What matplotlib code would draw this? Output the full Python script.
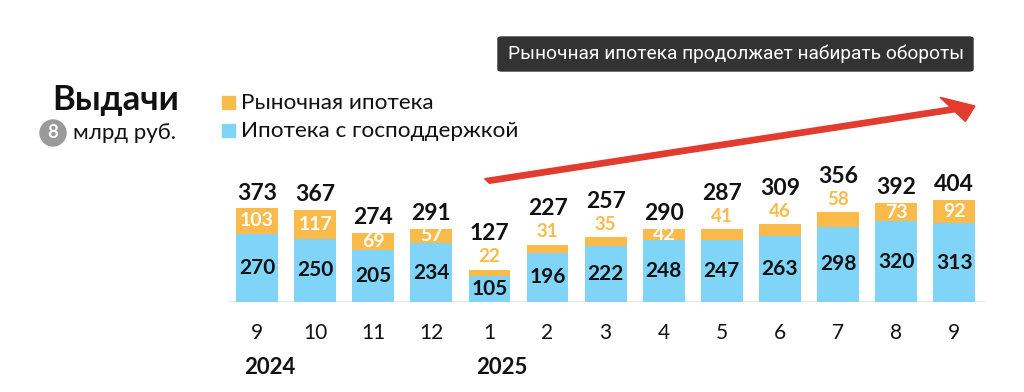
import matplotlib.pyplot as plt
from matplotlib.patches import FancyBboxPatch, Ellipse, FancyArrow

months = ["9", "10", "11", "12", "1", "2", "3", "4", "5", "6", "7", "8", "9"]
years = {0: "2024", 4: "2025"}
state_support = [270, 250, 205, 234, 105, 196, 222, 248, 247, 263, 298, 320, 313]
market = [103, 117, 69, 57, 22, 31, 35, 42, 41, 46, 58, 73, 92]
totals = [373, 367, 274, 291, 127, 227, 257, 290, 287, 309, 356, 392, 404]
# months where the market value is printed above the bar, not inside it
market_above = [4, 5, 6, 8, 9, 10]

BLUE = "#7fd4f8"
ORANGE = "#fbbb4a"
DARK = "#111111"
W, H = 1024, 392
PX = 0.252  # pixels per unit


def fx(px):
    return px / W


def fy(py):
    return 1 - py / H


def main():
    plt.rcParams['font.family'] = ['Lato', 'DejaVu Sans']
    fig = plt.figure(figsize=(W / 100, H / 100), dpi=100)
    fig.patch.set_facecolor("white")

    # axes: x 228..985 px, baseline at y=302 px
    top_px = 100
    ax = fig.add_axes([fx(228), fy(302), fx(985 - 228), (302 - top_px) / H])
    ax.set_xlim(-0.5, 12.53)
    ax.set_ylim(0, (302 - top_px) / PX)
    ax.axis("off")

    x = list(range(len(months)))
    ax.bar(x, state_support, width=0.72, color=BLUE, zorder=2)
    ax.bar(x, market, width=0.72, bottom=state_support, color=ORANGE, zorder=2)
    ax.axhline(0, color="#e4e4e4", lw=2, zorder=1)

    for i in x:
        s, m, t = state_support[i], market[i], totals[i]
        top = s + m
        ax.text(i, s / 2, str(s), ha="center", va="center", fontsize=15,
                fontweight="bold", color=DARK, zorder=3)
        if i in market_above:
            ax.text(i, top + 13 / PX, str(m), ha="center", va="center",
                    fontsize=13.5, fontweight="bold", color=ORANGE, zorder=3)
            ax.text(i, top + 36 / PX, str(t), ha="center", va="center",
                    fontsize=16.5, fontweight="bold", color=DARK, zorder=3)
        else:
            ax.text(i, s + m / 2, str(m), ha="center", va="center", fontsize=14,
                    fontweight="bold", color="white", zorder=3)
            ax.text(i, top + 15 / PX, str(t), ha="center", va="center",
                    fontsize=16.5, fontweight="bold", color=DARK, zorder=3)

    # month and year labels
    for i in x:
        fig.text(fx(257 + 58.1 * i), fy(333), months[i], ha="center", va="center",
                 fontsize=15, color=DARK)
    for i, yr in years.items():
        fig.text(fx(257 + 58.1 * i - 13), fy(368), yr, ha="left", va="center",
                 fontsize=16, fontweight="bold", color=DARK)

    # title block
    fig.text(fx(179), fy(100), "Выдачи", ha="right", va="center", fontsize=25,
             fontweight="bold", color=DARK)
    fig.patches.append(Ellipse((fx(53), fy(133)), 26 / W, 26 / H,
                               transform=fig.transFigure, color="#9a9a9a", figure=fig))
    fig.text(fx(53), fy(133), "8", ha="center", va="center", fontsize=13.5,
             fontweight="bold", color="white")
    fig.text(fx(73), fy(133), "млрд руб.", ha="left", va="center", fontsize=16,
             color=DARK)

    # legend
    for py, col, lab in [(103, ORANGE, "Рыночная ипотека"),
                         (131, BLUE, "Ипотека с господдержкой")]:
        fig.patches.append(plt.Rectangle((fx(222), fy(py + 6)), 13 / W, 13 / H,
                                         transform=fig.transFigure, color=col,
                                         figure=fig))
        fig.text(fx(241), fy(py), lab, ha="left", va="center", fontsize=16.2,
                 color=DARK)

    # dark note box
    box = FancyBboxPatch((fx(498), fy(71)), (973 - 498) / W, 34 / H,
                         boxstyle="round,pad=0,rounding_size=0.004",
                         transform=fig.transFigure, color="#333333", figure=fig)
    fig.patches.append(box)
    fig.text(fx(736), fy(54), "Рыночная ипотека продолжает набирать обороты",
             ha="center", va="center", fontsize=13.8, color="white",
             family=["Roboto", "DejaVu Sans"])

    # red trend arrow (pixel coords)
    x0, y0, x1, y1 = 487, 181, 975, 106
    arrow = FancyArrow(fx(x0), fy(y0), fx(x1) - fx(x0), fy(y1) - fy(y0),
                       width=5 / H, head_width=26 / H, head_length=24 / W,
                       length_includes_head=True, transform=fig.transFigure,
                       color="#e23b2f", figure=fig)
    fig.patches.append(arrow)

    fig.savefig("out.png", dpi=100)


if __name__ == '__main__':
    main()
